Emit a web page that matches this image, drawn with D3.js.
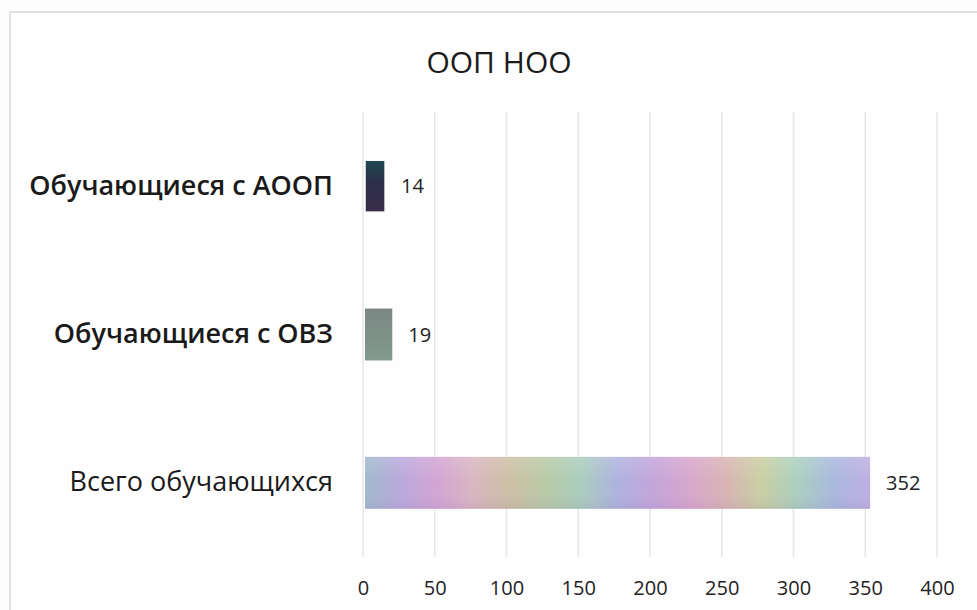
<!DOCTYPE html>
<html>
<head>
<meta charset="utf-8">
<script src="https://cdn.jsdelivr.net/npm/d3@7"></script>
<style>
  body { margin: 0; background: #fdfdfd; }
  svg { display: block; }
</style>
</head>
<body>
<svg width="977" height="610"></svg>
<script>
// chart data
const categories = ["Обучающиеся с АООП", "Обучающиеся с ОВЗ", "Всего обучающихся"];
const values = [14, 19, 352];
const xTicks = [0, 50, 100, 150, 200, 250, 300, 350, 400];
const title = "ООП НОО";

const svg = d3.select("svg");

// outer frame of the chart
svg.append("rect")
    .attr("x", 10).attr("y", 12)
    .attr("width", 985).attr("height", 620)
    .attr("fill", "#fefefe")
    .attr("stroke", "#d9d9de")
    .attr("stroke-width", 1.5);

const plotLeft = 363, plotRight = 937, plotTop = 112, plotBottom = 557;

const x = d3.scaleLinear().domain([0, 400]).range([plotLeft, plotRight]);
const y = d3.scaleBand().domain(categories).range([plotTop, plotBottom]).paddingInner(0.65).paddingOuter(0.325);

// gradients for the bars
const defs = svg.append("defs");
const g1 = defs.append("linearGradient").attr("id", "g1").attr("x1", 0).attr("y1", 0).attr("x2", 0).attr("y2", 1);
g1.append("stop").attr("offset", "0%").attr("stop-color", "#1f4a52");
g1.append("stop").attr("offset", "40%").attr("stop-color", "#2c2f4a");
g1.append("stop").attr("offset", "100%").attr("stop-color", "#3a2c4a");

const g2 = defs.append("linearGradient").attr("id", "g2").attr("x1", 0).attr("y1", 0).attr("x2", 0).attr("y2", 1);
g2.append("stop").attr("offset", "0%").attr("stop-color", "#7c8784");
g2.append("stop").attr("offset", "100%").attr("stop-color", "#809a8c");

const rainbow = ["#9fb9cc", "#b9a8dc", "#d3a4d4", "#d9b6c0", "#cdbfa4", "#b8cba6", "#a9cdbd",
                 "#aeb2df", "#c3a4da", "#d8a6cc", "#d9b4b3", "#c9cfa2", "#a9cfbf", "#a9b8df", "#bfaee2"];
const g3 = defs.append("linearGradient").attr("id", "g3").attr("x1", 0).attr("y1", 0).attr("x2", 1).attr("y2", 0);
rainbow.forEach((c, i) => {
    g3.append("stop").attr("offset", (i / (rainbow.length - 1) * 100) + "%").attr("stop-color", c);
});
const g3v = defs.append("linearGradient").attr("id", "g3v").attr("x1", 0).attr("y1", 0).attr("x2", 0).attr("y2", 1);
g3v.append("stop").attr("offset", "0%").attr("stop-color", "#ffffff").attr("stop-opacity", 0.15);
g3v.append("stop").attr("offset", "50%").attr("stop-color", "#ffffff").attr("stop-opacity", 0);
g3v.append("stop").attr("offset", "100%").attr("stop-color", "#8060a0").attr("stop-opacity", 0.12);

const fills = ["url(#g1)", "url(#g2)", "url(#g3)"];

// title
svg.append("text")
    .attr("x", 499).attr("y", 73)
    .attr("text-anchor", "middle")
    .attr("font-family", "'Open Sans', sans-serif")
    .attr("font-size", 30)
    .attr("fill", "#1a1a1a")
    .text(title);

// vertical gridlines
svg.append("g")
    .selectAll("line")
    .data(xTicks)
    .enter().append("line")
    .attr("x1", d => x(d)).attr("x2", d => x(d))
    .attr("y1", plotTop).attr("y2", plotBottom)
    .attr("stroke", "#e6e6ea")
    .attr("stroke-width", 1.5);

// bottom axis, labels only
const xAxis = svg.append("g")
    .attr("transform", "translate(0," + plotBottom + ")")
    .call(d3.axisBottom(x).tickValues(xTicks).tickSize(0).tickPadding(24));
xAxis.select(".domain").remove();
xAxis.selectAll("text")
    .attr("font-family", "'Open Sans', sans-serif")
    .attr("font-size", 20)
    .attr("fill", "#222");

// category labels
const yAxis = svg.append("g")
    .attr("transform", "translate(333,0)")
    .call(d3.axisLeft(y).tickSize(0).tickPadding(0));
yAxis.select(".domain").remove();
yAxis.selectAll("text")
    .attr("font-family", "'Open Sans', sans-serif")
    .attr("font-size", 27)
    .attr("font-weight", (d, i) => i < 2 ? 600 : 400)
    .attr("fill", "#1a1a1a");

// bars
svg.append("g")
    .selectAll("rect")
    .data(values)
    .enter().append("rect")
    .attr("x", x(0) + 2)
    .attr("y", (d, i) => y(categories[i]))
    .attr("width", d => x(d) - x(0))
    .attr("height", y.bandwidth())
    .attr("fill", (d, i) => fills[i])
    .attr("stroke", (d, i) => i == 0 ? "#ffffff" : "none")
    .attr("stroke-width", 1.5);

// soft vertical shading on the big bar
svg.append("rect")
    .attr("x", x(0) + 2)
    .attr("y", y(categories[2]))
    .attr("width", x(values[2]) - x(0))
    .attr("height", y.bandwidth())
    .attr("fill", "url(#g3v)");

// value labels
svg.append("g")
    .selectAll("text")
    .data(values)
    .enter().append("text")
    .attr("x", d => x(d) + 18)
    .attr("y", (d, i) => y(categories[i]) + y.bandwidth() / 2 + 7)
    .attr("font-family", "'Open Sans', sans-serif")
    .attr("font-size", 20)
    .attr("fill", "#222")
    .text(d => d);
</script>
</body>
</html>
